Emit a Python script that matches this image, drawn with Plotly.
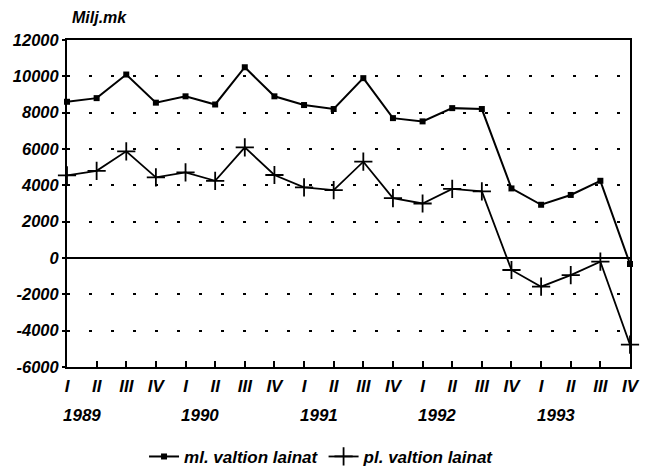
import plotly.graph_objects as go

quarters = ["I", "II", "III", "IV"] * 5
years = ["1989", "1990", "1991", "1992", "1993"]
ml_valtion = [8600, 8800, 10100, 8550, 8900, 8450, 10500, 8900,
              8420, 8200, 9900, 7700, 7520, 8250, 8200, 3830,
              2930, 3470, 4250, -330]
pl_valtion = [4550, 4800, 5870, 4440, 4710, 4250, 6090, 4570,
              3890, 3740, 5300, 3300, 3000, 3800, 3670, -660,
              -1580, -940, -200, -4770]
series_names = ["ml. valtion lainat", "pl. valtion lainat"]
y_ticks = list(range(-6000, 12001, 2000))
y_ticktext = [str(v) for v in y_ticks]
unit_label = "Milj.mk"

FONT = dict(family="Liberation Sans", size=17, color="black",
            weight=700, style="italic")
x = list(range(len(quarters)))

fig = go.Figure()
fig.add_trace(go.Scatter(
    x=x, y=ml_valtion, name=series_names[0], mode="lines+markers",
    line=dict(color="black", width=2),
    marker=dict(symbol="square", size=6, color="black"),
    cliponaxis=False))
fig.add_trace(go.Scatter(
    x=x, y=pl_valtion, name=series_names[1], mode="lines+markers",
    line=dict(color="black", width=1.8),
    marker=dict(symbol="cross-thin", size=13, color="black",
                line=dict(color="black", width=1.8)),
    cliponaxis=False))

for i, yr in enumerate(years):
    fig.add_annotation(x=i * 4 + 0.5, y=-0.147, xref="x", yref="paper",
                       text=yr, showarrow=False, font=FONT,
                       xanchor="center", yanchor="middle")

fig.add_annotation(x=0.005, y=1.07, xref="paper", yref="paper", text=unit_label,
                   showarrow=False, font=dict(FONT, size=16),
                   xanchor="left", yanchor="middle")

fig.update_xaxes(range=[0, 19], tickvals=x, ticktext=quarters,
                 showgrid=False, zeroline=False,
                 showline=True, linecolor="black", linewidth=2, mirror=True,
                 ticks="inside", ticklen=6, tickwidth=1.5, tickcolor="black",
                 tickfont=FONT, ticklabelstandoff=3)
fig.update_yaxes(range=[-6000, 12000], tickvals=y_ticks, ticktext=y_ticktext,
                 showgrid=True, gridcolor="black", gridwidth=2,
                 griddash="3px,19px",
                 zeroline=True, zerolinecolor="black", zerolinewidth=1.5,
                 showline=True, linecolor="black", linewidth=2, mirror=True,
                 ticks="outside", ticklen=3, tickwidth=1.5, tickcolor="black",
                 tickfont=dict(FONT, size=16.5))

# page body has an 8px default margin, so the figure is sized to fit
fig.update_layout(
    width=645, height=462,
    margin=dict(l=59, r=23, t=32, b=103, autoexpand=False),
    paper_bgcolor="white", plot_bgcolor="white",
    showlegend=True,
    legend=dict(orientation="h", x=0.453, xanchor="center", y=-0.275,
                yanchor="middle", font=FONT, itemwidth=30,
                bgcolor="rgba(0,0,0,0)", tracegroupgap=0),
)

fig.write_html("out.html")
